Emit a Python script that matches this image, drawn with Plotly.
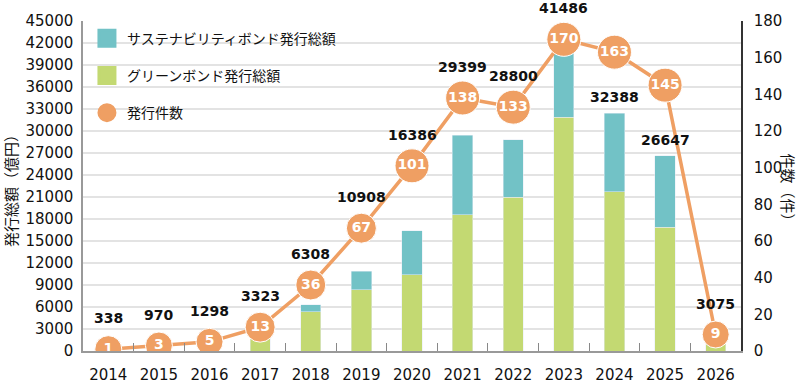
import plotly.graph_objects as go

# ---- data ----
years = ['2014', '2015', '2016', '2017', '2018', '2019', '2020',
         '2021', '2022', '2023', '2024', '2025', '2026']
green_bond = [338, 970, 1298, 3000, 5360, 8320, 10370,
              18550, 20970, 31880, 21730, 16870, 2800]
sustainability_bond = [0, 0, 0, 323, 948, 2588, 6016,
                       10849, 7830, 9606, 10658, 9777, 275]
issue_total = [338, 970, 1298, 3323, 6308, 10908, 16386,
               29399, 28800, 41486, 32388, 26647, 3075]
issue_count = [1, 3, 5, 13, 36, 67, 101, 138, 133, 170, 163, 145, 9]
left_ticks = list(range(0, 45001, 3000))
right_ticks = list(range(0, 181, 20))

names = ['サステナビリティボンド発行総額', 'グリーンボンド発行総額', '発行件数']
left_title = '発行総額（億円）'
right_title = '件数（件）'

# ---- style ----
TEAL = '#72C2C6'
GREEN = '#C3D972'
ORANGE = '#EF9F63'
NUM_FONT = 'DejaVu Sans, Noto Sans CJK JP, sans-serif'
JP_FONT = 'Noto Sans CJK JP, sans-serif'
LEFT_MAX, RIGHT_MAX = 45000, 180

xs = [int(y) for y in years]

fig = go.Figure()
fig.add_trace(go.Bar(x=xs, y=green_bond, marker=dict(color=GREEN),
                     width=0.4, showlegend=False, name=names[1]))
fig.add_trace(go.Bar(x=xs, y=sustainability_bond, marker=dict(color=TEAL),
                     width=0.4, showlegend=False, name=names[0]))

sizes = [27 if c < 10 else (30 if c < 100 else 34) for c in issue_count]
fig.add_trace(go.Scatter(x=xs, y=issue_count, yaxis='y2', mode='lines+markers+text',
                         line=dict(color=ORANGE, width=3.5),
                         marker=dict(size=sizes, color=ORANGE, opacity=1),
                         text=['<b>%d</b>' % c for c in issue_count],
                         textposition='middle center',
                         textfont=dict(color='white', size=14, family=NUM_FONT),
                         showlegend=False, name=names[2]))

# legend entries (no data shown)
for nm, sym, col, grp in [(names[0], 'square', TEAL, 'a'),
                          (names[1], 'square', GREEN, 'b'),
                          (names[2], 'circle', ORANGE, 'c')]:
    fig.add_trace(go.Scatter(x=[xs[0]], y=[None], mode='markers', name=nm,
                             legendgroup=grp,
                             marker=dict(symbol=sym, size=17, color=col,
                                         line=dict(color=col, width=3))))

# total labels
label_anchor = ['count'] * 10 + ['bar', 'bar', 'count']
for i, (tot, cnt, anc) in enumerate(zip(issue_total, issue_count, label_anchor)):
    if anc == 'count':
        fig.add_annotation(x=xs[i], y=cnt, xref='x', yref='y2', text='<b>%d</b>' % tot,
                           showarrow=False, yshift=31,
                           font=dict(size=14, color='#111', family=NUM_FONT))
    else:
        fig.add_annotation(x=xs[i], y=tot, xref='x', yref='y', text='<b>%d</b>' % tot,
                           showarrow=False, yshift=16,
                           font=dict(size=14, color='#111', family=NUM_FONT))

# axis titles
fig.add_annotation(xref='paper', yref='paper', x=-0.1094, y=0.497, text=left_title,
                   textangle=-90, showarrow=False, xanchor='center', yanchor='middle',
                   font=dict(size=15, color='#111', family=JP_FONT))
fig.add_annotation(xref='paper', yref='paper', x=1.072, y=0.485, text=right_title,
                   textangle=90, showarrow=False, xanchor='center', yanchor='middle',
                   font=dict(size=15, color='#111', family=JP_FONT))

fig.update_layout(
    width=800, height=386,
    margin=dict(l=83, r=59, t=21, b=35, autoexpand=False),
    plot_bgcolor='white', paper_bgcolor='white',
    barmode='stack',
    legend=dict(x=0.006, y=0.995, xanchor='left', yanchor='top',
                bgcolor='rgba(0,0,0,0)', tracegroupgap=16,
                font=dict(size=14, color='#111', family=JP_FONT)),
    xaxis=dict(range=[xs[0] - 0.5, xs[-1] + 0.5], tickmode='array', tickvals=xs,
               ticktext=years, ticks='', showline=True, linecolor='#999',
               linewidth=1.5, showgrid=False, zeroline=False, ticklabelstandoff=9,
               automargin=False,
               minor=dict(tickmode='array', tickvals=[x + 0.5 for x in xs[:-1]],
                          ticks='inside', ticklen=8, tickcolor='#888', tickwidth=1,
                          showgrid=False),
               tickfont=dict(size=15, color='#111', family=NUM_FONT)),
    yaxis=dict(range=[0, LEFT_MAX], tickmode='array', tickvals=left_ticks,
               ticktext=[str(v) for v in left_ticks], gridcolor='#E3E3E3',
               gridwidth=1.5, showline=True, linecolor='#999', linewidth=1.5,
               zeroline=False, ticklabelstandoff=5, automargin=False,
               tickfont=dict(size=15, color='#111', family=NUM_FONT)),
    yaxis2=dict(range=[0, RIGHT_MAX], tickmode='array', tickvals=right_ticks,
                overlaying='y', side='right', automargin=False,
                showgrid=False, showline=True, linecolor='#333', linewidth=1.5,
                zeroline=False, ticklabelstandoff=8,
                tickfont=dict(size=15, color='#111', family=NUM_FONT)),
)

fig.write_html('out.html', config={'displayModeBar': False},
               post_script="document.body.style.margin='0';")
